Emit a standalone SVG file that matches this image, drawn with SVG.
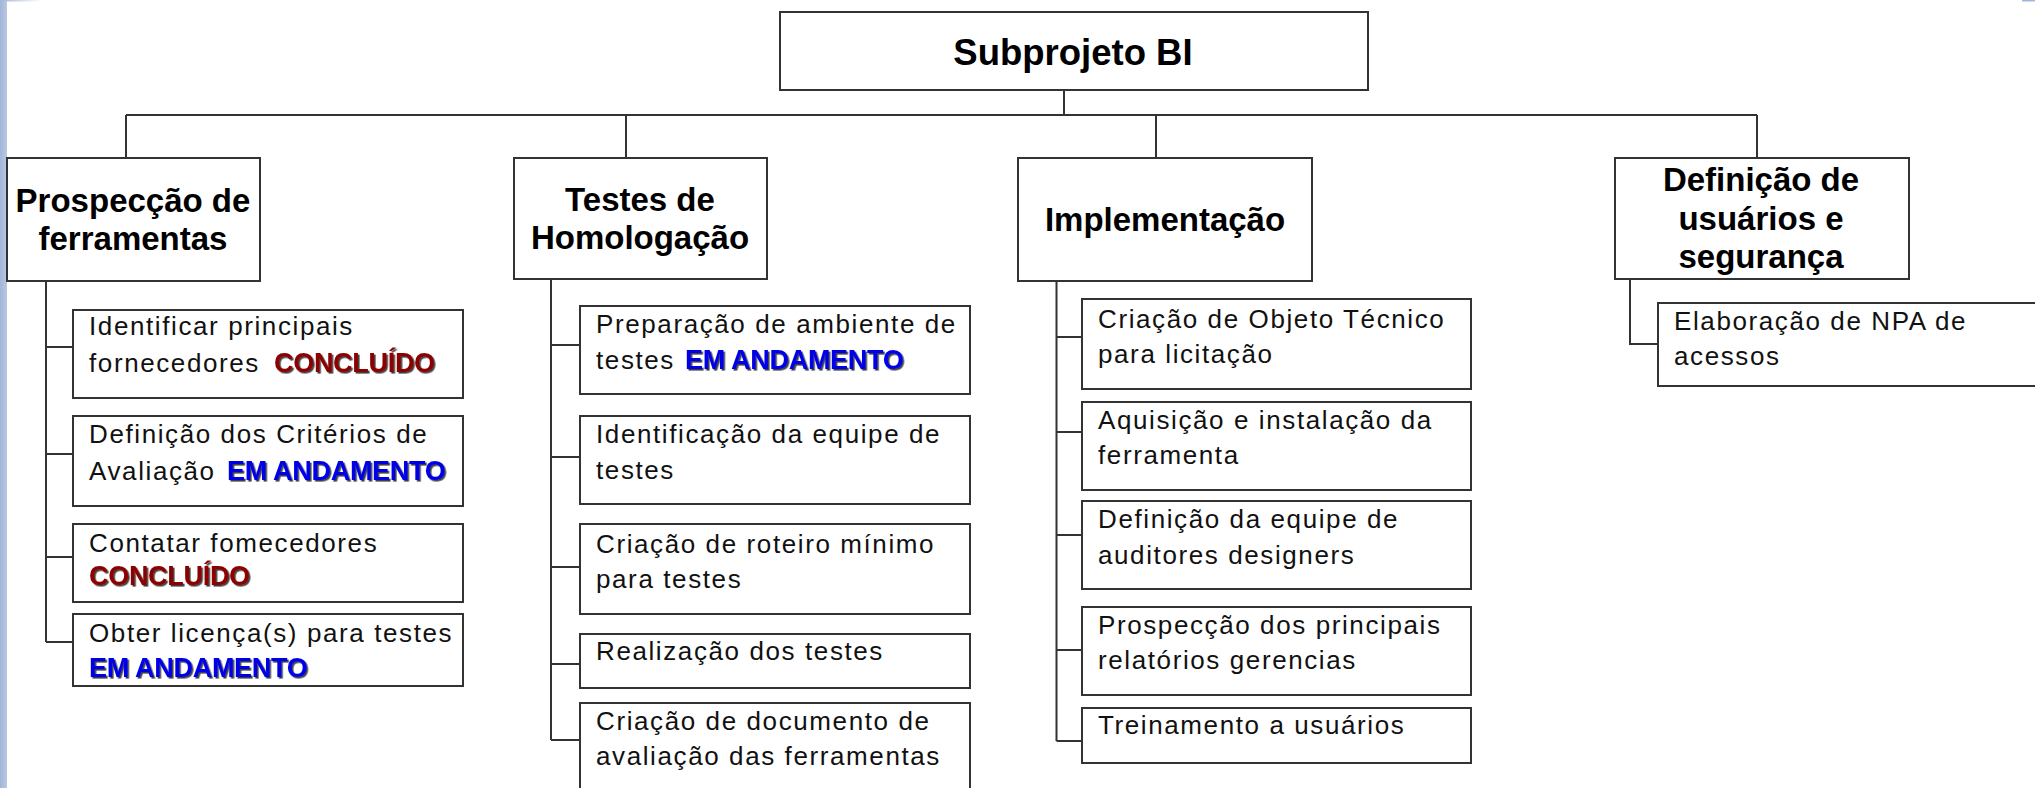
<svg xmlns="http://www.w3.org/2000/svg" width="2035" height="788" viewBox="0 0 2035 788">
<style>
.box{fill:#fff;stroke:#333;stroke-width:2}
.ln{fill:none;stroke:#333;stroke-width:2}
.t0{font-family:"Liberation Sans",Arial,sans-serif;font-weight:bold;font-size:36.5px;fill:#000;text-anchor:middle}
.t1{font-family:"Liberation Sans",Arial,sans-serif;font-weight:bold;font-size:33px;fill:#000;text-anchor:middle}
.t2{font-family:"Liberation Sans",Arial,sans-serif;font-size:26px;letter-spacing:1.6px;fill:#111}
.ok{font-family:"Liberation Sans",Arial,sans-serif;font-weight:bold;font-size:27px;letter-spacing:-0.3px;fill:#8b0000}
.wip{font-family:"Liberation Sans",Arial,sans-serif;font-weight:bold;font-size:27px;letter-spacing:-0.3px;fill:#0000e8}
</style>
<defs>
<linearGradient id="strip" x1="0" y1="0" x2="1" y2="0">
<stop offset="0" stop-color="#a3b6d8"/><stop offset="1" stop-color="#b9c8e3"/>
</linearGradient>
<linearGradient id="topL" x1="0" y1="0" x2="1" y2="0">
<stop offset="0" stop-color="#a3b6d8"/><stop offset="1" stop-color="#ffffff"/>
</linearGradient>
<filter id="sh" x="-5%" y="-20%" width="115%" height="150%">
<feDropShadow dx="1.6" dy="1.6" stdDeviation="0.4" flood-color="#000" flood-opacity="0.75"/>
</filter>
</defs>
<rect x="0" y="0" width="2035" height="788" fill="#fff"/>
<rect x="0" y="0" width="7" height="788" fill="url(#strip)"/>
<rect x="0" y="0" width="42" height="1.5" fill="url(#topL)"/>
<rect x="2022" y="0" width="13" height="1.5" fill="#a3b6d8"/>

<g id="connectors">
<path class="ln" d="M1064 90V115M126 115H1757M126 115V158M626 115V158M1156 115V158M1757 115V158"/>
<path class="ln" d="M46 281V642M46 347H73M46 454H73M46 557H73M46 642H73"/>
<path class="ln" d="M551 279V740M551 345H580M551 457H580M551 567H580M551 664H580M551 740H580"/>
<path class="ln" d="M1056.5 281V741M1056.5 337H1082M1056.5 432H1082M1056.5 535H1082M1056.5 650H1082M1056.5 741H1082"/>
<path class="ln" d="M1630 279V344H1658"/>
</g>

<g id="root">
<rect class="box" x="780" y="12" width="588" height="78"/>
<text class="t0" x="1073" y="65">Subprojeto BI</text>
</g>

<g id="prospeccao">
<rect class="box" x="7" y="158" width="253" height="123"/>
<text class="t1" x="133" y="211.5">Prospecção de</text>
<text class="t1" x="133" y="250">ferramentas</text>
</g>
<g id="testes">
<rect class="box" x="514" y="158" width="253" height="121"/>
<text class="t1" x="640" y="211">Testes de</text>
<text class="t1" x="640" y="249">Homologação</text>
</g>
<g id="implementacao">
<rect class="box" x="1018" y="158" width="294" height="123"/>
<text class="t1" x="1165" y="231">Implementação</text>
</g>
<g id="definicao">
<rect class="box" x="1615" y="158" width="294" height="121"/>
<text class="t1" x="1761" y="191">Definição de</text>
<text class="t1" x="1761" y="230">usuários e</text>
<text class="t1" x="1761" y="268">segurança</text>
</g>

<g id="p1">
<rect class="box" x="73" y="310" width="390" height="88"/>
<text class="t2" x="89" y="335">Identificar principais</text>
<text class="t2" x="89" y="371.5">fornecedores</text>
<text class="ok" x="274" y="371.5" filter="url(#sh)">CONCLUÍDO</text>
</g>
<g id="p2">
<rect class="box" x="73" y="416" width="390" height="90"/>
<text class="t2" x="89" y="443">Definição dos Critérios de</text>
<text class="t2" x="89" y="480">Avaliação</text>
<text class="wip" x="227" y="480" filter="url(#sh)">EM ANDAMENTO</text>
</g>
<g id="p3">
<rect class="box" x="73" y="524" width="390" height="78"/>
<text class="t2" x="89" y="551.5">Contatar fomecedores</text>
<text class="ok" x="89" y="585" filter="url(#sh)">CONCLUÍDO</text>
</g>
<g id="p4">
<rect class="box" x="73" y="614" width="390" height="72"/>
<text class="t2" x="89" y="641.5">Obter licença(s) para testes</text>
<text class="wip" x="89" y="676.5" filter="url(#sh)">EM ANDAMENTO</text>
</g>

<g id="t1">
<rect class="box" x="580" y="306" width="390" height="88"/>
<text class="t2" x="596" y="333">Preparação de ambiente de</text>
<text class="t2" x="596" y="369">testes</text>
<text class="wip" x="685" y="369" filter="url(#sh)">EM ANDAMENTO</text>
</g>
<g id="t2">
<rect class="box" x="580" y="416" width="390" height="88"/>
<text class="t2" x="596" y="443">Identificação da equipe de</text>
<text class="t2" x="596" y="479">testes</text>
</g>
<g id="t3">
<rect class="box" x="580" y="524" width="390" height="90"/>
<text class="t2" x="596" y="553">Criação de roteiro mínimo</text>
<text class="t2" x="596" y="588">para testes</text>
</g>
<g id="t4">
<rect class="box" x="580" y="634" width="390" height="54"/>
<text class="t2" x="596" y="660">Realização dos testes</text>
</g>
<g id="t5">
<rect class="box" x="580" y="703" width="390" height="100"/>
<text class="t2" x="596" y="730">Criação de documento de</text>
<text class="t2" x="596" y="765">avaliação das ferramentas</text>
</g>

<g id="i1">
<rect class="box" x="1082" y="299" width="389" height="90"/>
<text class="t2" x="1098" y="328">Criação de Objeto Técnico</text>
<text class="t2" x="1098" y="362.5">para licitação</text>
</g>
<g id="i2">
<rect class="box" x="1082" y="402" width="389" height="88"/>
<text class="t2" x="1098" y="429">Aquisição e instalação da</text>
<text class="t2" x="1098" y="464">ferramenta</text>
</g>
<g id="i3">
<rect class="box" x="1082" y="501" width="389" height="88"/>
<text class="t2" x="1098" y="528">Definição da equipe de</text>
<text class="t2" x="1098" y="564">auditores designers</text>
</g>
<g id="i4">
<rect class="box" x="1082" y="607" width="389" height="88"/>
<text class="t2" x="1098" y="634">Prospecção dos principais</text>
<text class="t2" x="1098" y="669">relatórios gerencias</text>
</g>
<g id="i5">
<rect class="box" x="1082" y="708" width="389" height="55"/>
<text class="t2" x="1098" y="734">Treinamento a usuários</text>
</g>

<g id="d1">
<rect class="box" x="1658" y="303" width="390" height="83"/>
<text class="t2" x="1674" y="330">Elaboração de NPA de</text>
<text class="t2" x="1674" y="365">acessos</text>
</g>
</svg>
